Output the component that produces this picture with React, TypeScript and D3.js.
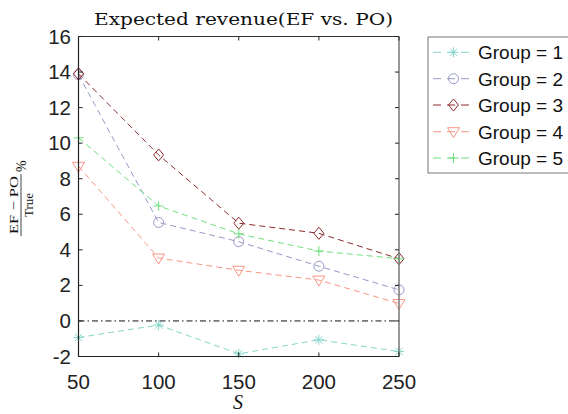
import React from "react";
import * as d3 from "d3";

const sValues = [50, 100, 150, 200, 250];
const group1 = [-0.93, -0.23, -1.85, -1.06, -1.72];
const group2 = [13.85, 5.54, 4.46, 3.08, 1.75];
const group3 = [13.9, 9.34, 5.5, 4.93, 3.5];
const group4 = [8.7, 3.54, 2.85, 2.3, 0.98];
const group5 = [10.3, 6.47, 4.9, 3.93, 3.5];
const groupNames = ["Group = 1", "Group = 2", "Group = 3", "Group = 4", "Group = 5"];
const groupColors = ["#86d6ca", "#9898c8", "#8c2a2a", "#fa9686", "#6ee07e"];
const markerTypes = ["star", "circle", "diamond", "triangle", "plus"];
const yTicks = [-2, 0, 2, 4, 6, 8, 10, 12, 14, 16];

const series = [group1, group2, group3, group4, group5];

function Marker({ type, x, y, color }: { type: string; x: number; y: number; color: string }) {
  const r = 5;
  if (type === "star") {
    const a = r * 0.72;
    return (
      <g stroke={color} strokeWidth={1} fill="none">
        <line x1={x - r} y1={y} x2={x + r} y2={y} />
        <line x1={x} y1={y - r} x2={x} y2={y + r} />
        <line x1={x - a} y1={y - a} x2={x + a} y2={y + a} />
        <line x1={x - a} y1={y + a} x2={x + a} y2={y - a} />
      </g>
    );
  }
  if (type === "circle") {
    return <circle cx={x} cy={y} r={r} stroke={color} fill="none" strokeWidth={1} />;
  }
  if (type === "diamond") {
    return (
      <path
        d={`M${x},${y - r - 1}L${x + r},${y}L${x},${y + r + 1}L${x - r},${y}Z`}
        stroke={color}
        fill="none"
        strokeWidth={1}
      />
    );
  }
  if (type === "triangle") {
    return (
      <path
        d={`M${x - r - 1},${y - r + 1}L${x + r + 1},${y - r + 1}L${x},${y + r + 1}Z`}
        stroke={color}
        fill="none"
        strokeWidth={1}
      />
    );
  }
  return (
    <g stroke={color} strokeWidth={1}>
      <line x1={x - r} y1={y} x2={x + r} y2={y} />
      <line x1={x} y1={y - r} x2={x} y2={y + r} />
    </g>
  );
}

export default function App() {
  const width = 568;
  const height = 414;
  const x = d3.scaleLinear().domain([50, 250]).range([78.5, 399]);
  const y = d3.scaleLinear().domain([-2, 16]).range([356.5, 36.5]);
  const line = d3
    .line<number>()
    .x((_, i) => x(sValues[i]))
    .y((d) => y(d));

  const sans = "'Liberation Sans', Arial, sans-serif";
  const serif = "'DejaVu Serif', 'Liberation Serif', serif";
  const serif2 = "'Liberation Serif', serif";
  const legendX = 428;
  const legendY = 37;
  const legendRows = [52.3, 78.7, 105, 131.7, 158];

  return (
    <svg
      width={width}
      height={height}
      style={{ position: "absolute", left: 0, top: 0, background: "#fff" }}
    >
      {/* title */}
      <text x={94} y={25} fontFamily={serif} fontSize={17} fill="#111" textLength={299} lengthAdjust="spacingAndGlyphs">
        Expected revenue(EF vs. PO)
      </text>

      {/* zero reference line */}
      <line
        x1={x(50)}
        x2={x(250)}
        y1={y(0)}
        y2={y(0)}
        stroke="#111"
        strokeWidth={1}
        strokeDasharray="6,3,1.5,3"
      />

      {/* series lines */}
      {series.map((vals, gi) => (
        <path
          key={"l" + gi}
          d={line(vals) || ""}
          fill="none"
          stroke={groupColors[gi]}
          strokeWidth={1}
          strokeDasharray="6,4"
        />
      ))}
      {series.map((vals, gi) =>
        vals.map((v, i) => (
          <Marker key={`m${gi}-${i}`} type={markerTypes[gi]} x={x(sValues[i])} y={y(v)} color={groupColors[gi]} />
        ))
      )}

      {/* axes box */}
      <line x1={x(50)} x2={x(250)} y1={y(16)} y2={y(16)} stroke="#333" strokeWidth={1} />
      <line x1={x(250)} x2={x(250)} y1={y(16)} y2={y(-2)} stroke="#777" strokeWidth={1.5} />
      <line x1={x(50)} x2={x(250)} y1={y(-2)} y2={y(-2)} stroke="#222" strokeWidth={1.2} />
      <line x1={x(50)} x2={x(50)} y1={y(16)} y2={y(-2)} stroke="#222" strokeWidth={1.2} />

      {/* x ticks */}
      {sValues.map((s) => (
        <g key={"xt" + s}>
          <line x1={x(s)} x2={x(s)} y1={y(-2)} y2={y(-2) - 4} stroke="#222" />
          <line x1={x(s)} x2={x(s)} y1={y(16)} y2={y(16) + 4} stroke="#222" />
          <text x={x(s)} y={388.5} textAnchor="middle" fontFamily={sans} fontSize={20.5} fill="#222">
            {s}
          </text>
        </g>
      ))}

      {/* y ticks */}
      {yTicks.map((t) => (
        <g key={"yt" + t}>
          <line x1={x(50)} x2={x(50) + 4} y1={y(t)} y2={y(t)} stroke="#222" />
          <line x1={x(250)} x2={x(250) - 4} y1={y(t)} y2={y(t)} stroke="#222" />
          <text x={71} y={y(t) + 7} textAnchor="end" fontFamily={sans} fontSize={20.5} fill="#222">
            {t}
          </text>
        </g>
      ))}

      {/* x label */}
      <text x={238} y={409} textAnchor="middle" fontFamily={serif2} fontStyle="italic" fontSize={20} fill="#111">
        S
      </text>

      {/* y label */}
      <g transform="translate(20,205) rotate(-90)" fontFamily={serif2} fill="#111">
        <text x={0} y={-2} textAnchor="middle" fontSize={13} textLength={58} lengthAdjust="spacingAndGlyphs">
          EF − PO
        </text>
        <line x1={-31} x2={31} y1={1} y2={1} stroke="#111" strokeWidth={0.8} />
        <text x={0} y={12.5} textAnchor="middle" fontSize={13}>
          True
        </text>
        <text x={33} y={6} fontSize={14}>
          %
        </text>
      </g>

      {/* legend */}
      <rect x={legendX} y={legendY} width={150} height={136} fill="#fff" stroke="#777" strokeWidth={1} />
      {groupNames.map((name, gi) => (
        <g key={"lg" + gi}>
          <line
            x1={433}
            x2={474}
            y1={legendRows[gi]}
            y2={legendRows[gi]}
            stroke={groupColors[gi]}
            strokeWidth={1}
            strokeDasharray="8,6"
            strokeDashoffset={0}
          />
          <Marker type={markerTypes[gi]} x={453.5} y={legendRows[gi]} color={groupColors[gi]} />
          <text x={478} y={legendRows[gi] + 6.8} fontFamily={sans} fontSize={19} fill="#111">
            {name}
          </text>
        </g>
      ))}
    </svg>
  );
}
